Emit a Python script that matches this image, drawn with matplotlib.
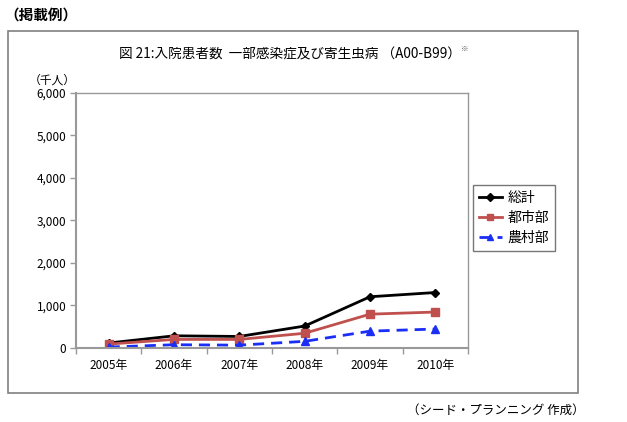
import matplotlib
matplotlib.use("Agg")
import matplotlib.pyplot as plt
from matplotlib.patches import Rectangle
from matplotlib.ticker import FuncFormatter, FixedLocator

plt.rcParams['font.family'] = ['Noto Sans CJK JP', 'DejaVu Sans']

years = ["2005年", "2006年", "2007年", "2008年", "2009年", "2010年"]
total = [110, 280, 265, 510, 1200, 1300]
urban = [85, 195, 195, 340, 790, 840]
rural = [15, 70, 60, 150, 390, 440]
series_names = ["総計", "都市部", "農村部"]

W, H = 627, 422
fig = plt.figure(figsize=(W/100, H/100), dpi=100)

def fx(x): return x / W
def fy(y): return 1 - y / H

# outer frame
fig.patches.append(Rectangle((fx(8), fy(393)), fx(578) - fx(8), fy(31) - fy(393),
                             transform=fig.transFigure, fill=False, ec='#808080', lw=1.2))

fig.text(fx(4), fy(15), "（掲載例）", fontsize=10.5, fontweight='bold', va='center', ha='left')
fig.text(fx(119), fy(54), "図 21:入院患者数  一部感染症及び寄生虫病 （A00-B99）", fontsize=9.8,
         va='center', ha='left')
fig.text(fx(461), fy(49), "※", fontsize=5.5, va='center', ha='left', color='#555555')
fig.text(fx(496), fy(410), "（シード・プランニング 作成）", fontsize=9, va='center', ha='center')

ax = fig.add_axes([fx(76), fy(347.7), fx(468) - fx(76), fy(93) - fy(347.7)])
x = list(range(len(years)))
l1, = ax.plot(x, total, color='black', lw=2, marker='D', ms=4.5, label=series_names[0])
l2, = ax.plot(x, urban, color='#C0504D', lw=2, marker='s', ms=6, label=series_names[1])
l3, = ax.plot(x, rural, color='#1A2EF5', lw=2, ls=(0, (4, 2.5)), marker='^', ms=6, label=series_names[2])

ax.set_xlim(-0.5, len(years) - 0.5)
ax.set_ylim(0, 6000)
ax.set_yticks(range(0, 6001, 1000))
ax.yaxis.set_major_formatter(FuncFormatter(lambda v, p: f"{int(v):,}"))
ax.set_xticks(x)
ax.set_xticklabels(years)
ax.xaxis.set_minor_locator(FixedLocator([i - 0.5 for i in range(len(years) + 1)]))
ax.tick_params(axis='x', which='major', length=0, labelsize=8.5, pad=8)
ax.tick_params(axis='x', which='minor', length=4, color='#999999', width=1)
ax.tick_params(axis='y', length=4, color='#999999', width=1, labelsize=8.5, pad=3)
for s in ['left', 'bottom']:
    ax.spines[s].set_color('#999999')
    ax.spines[s].set_linewidth(1.5)
for s in ['top', 'right']:
    ax.spines[s].set_color('#999999')
    ax.spines[s].set_linewidth(1)
ax.text(-0.06, 1.025, "（千人）", transform=ax.transAxes, fontsize=8.5, ha='center', va='bottom')

leg = fig.legend(handles=[l1, l2, l3], loc='upper left',
                 bbox_to_anchor=(fx(473), fy(185)), frameon=True, fancybox=False,
                 edgecolor='#555555', fontsize=10, handlelength=1.7, handletextpad=0.4,
                 borderpad=0.4, labelspacing=0.45, borderaxespad=0)
leg.get_frame().set_linewidth(1)
for h in leg.legend_handles:
    h.set_markersize(4)

fig.savefig("out.png", dpi=100)
